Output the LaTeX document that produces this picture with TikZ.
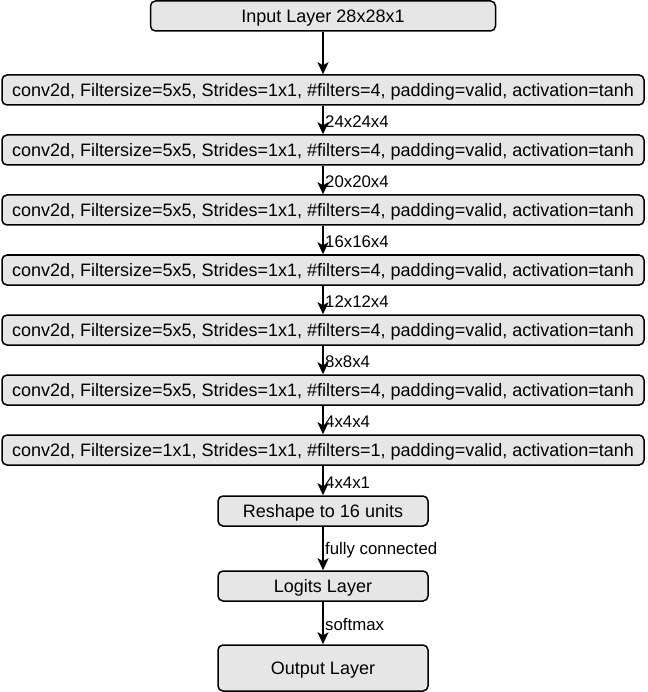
\documentclass[tikz,border=0pt]{standalone}
\usepackage{fontspec}
\setmainfont{Liberation Sans}
\usetikzlibrary{arrows.meta}
\definecolor{boxfill}{HTML}{E6E6E6}
\begin{document}
\begin{tikzpicture}[x=1pt,y=-1pt,
  layer/.style={draw=black, fill=boxfill, line width=1.5pt, rounded corners=5pt,
    inner sep=0pt, text height=15pt, text depth=1.5pt, font=\fontsize{18}{21}\selectfont},
  flow/.style={line width=1.5pt, -{Stealth[length=12pt,width=11pt,inset=3pt]}},
  lbl/.style={anchor=west, inner sep=0pt, font=\fontsize{16.8}{19}\selectfont}]
\useasboundingbox (0,0) rectangle (647,692);
\newcommand{\convtext}[2]{conv2d, Filtersize=#1, Strides=1x1, \#filters=#2, padding=valid, activation=tanh}
\node[layer, minimum width=345pt, minimum height=30pt] (in) at (323,16) {Input Layer 28x28x1};
\node[layer, minimum width=642pt, minimum height=30pt] (c1) at (323,90) {\convtext{5x5}{4}};
\node[layer, minimum width=642pt, minimum height=30pt] (c2) at (323,150) {\convtext{5x5}{4}};
\node[layer, minimum width=642pt, minimum height=30pt] (c3) at (323,210) {\convtext{5x5}{4}};
\node[layer, minimum width=642pt, minimum height=30pt] (c4) at (323,270) {\convtext{5x5}{4}};
\node[layer, minimum width=642pt, minimum height=30pt] (c5) at (323,330) {\convtext{5x5}{4}};
\node[layer, minimum width=642pt, minimum height=30pt] (c6) at (323,390) {\convtext{5x5}{4}};
\node[layer, minimum width=642pt, minimum height=30pt] (c7) at (323,450) {\convtext{1x1}{1}};
\node[layer, minimum width=210pt, minimum height=30pt] (rs) at (323,511) {Reshape to 16 units};
\node[layer, minimum width=210pt, minimum height=30pt] (lg) at (323,586) {Logits Layer};
\node[layer, minimum width=210pt, minimum height=46pt] (out) at (323,668) {Output Layer};
\draw[flow] (in) -- (c1);
\draw[flow] (c1) -- (c2);
\draw[flow] (c2) -- (c3);
\draw[flow] (c3) -- (c4);
\draw[flow] (c4) -- (c5);
\draw[flow] (c5) -- (c6);
\draw[flow] (c6) -- (c7);
\draw[flow] (c7) -- (rs);
\draw[flow] (rs) -- (lg);
\draw[flow] (lg) -- (out);
\node[lbl] (l1) at (325,122) {24x24x4};
\node[lbl] (l2) at (325,182) {20x20x4};
\node[lbl] (l3) at (325,242) {16x16x4};
\node[lbl] (l4) at (325,302) {12x12x4};
\node[lbl] (l5) at (325,362) {8x8x4};
\node[lbl] (l6) at (325,422) {4x4x4};
\node[lbl] (l7) at (325,483) {4x4x1};
\node[lbl] (l8) at (325,550) {fully connected};
\node[lbl] (l9) at (325,624) {softmax};
\end{tikzpicture}
\end{document}
